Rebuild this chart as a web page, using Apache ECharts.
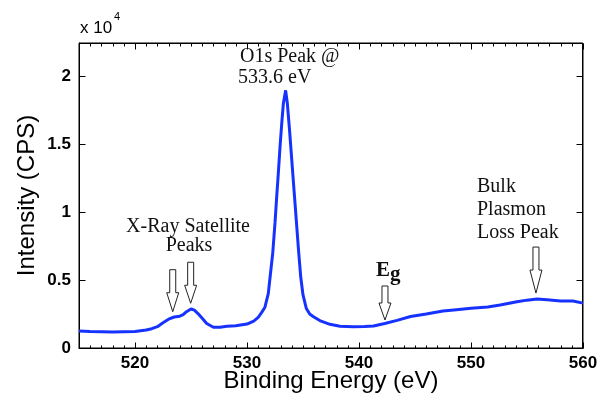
<!DOCTYPE html>
<html><head><meta charset="utf-8">
<script src="https://cdn.jsdelivr.net/npm/echarts@6/dist/echarts.min.js"></script>
<style>html,body{margin:0;padding:0;background:#fff}#c{width:600px;height:397px}</style>
</head><body><div id="c"></div>
<script>
// Binding energy (eV)
const energy = [515, 516, 517, 518, 519, 520, 521, 521.5, 522, 522.5, 523, 523.5, 524, 524.3, 524.6, 525, 525.3, 525.6, 526, 526.4, 527, 527.6, 528.2, 529, 530, 530.6, 531, 531.3, 531.6, 531.9, 532.1, 532.3, 532.5, 532.65, 532.8, 532.95, 533.1, 533.25, 533.45, 533.6, 533.8, 534.0, 534.2, 534.4, 534.6, 534.8, 535.0, 535.3, 535.6, 535.9, 536.5, 537.4, 538.3, 539.5, 540.5, 541.3, 542.3, 543.4, 544.6, 546, 547.5, 548.7, 550, 551.5, 552.6, 554.1, 555, 555.9, 556.8, 558, 559.1, 560];
// Intensity (x 10^4 CPS)
const intensity = [0.125, 0.122, 0.12, 0.117, 0.12, 0.122, 0.132, 0.142, 0.157, 0.186, 0.212, 0.228, 0.234, 0.245, 0.267, 0.287, 0.278, 0.255, 0.218, 0.18, 0.153, 0.152, 0.16, 0.164, 0.176, 0.198, 0.225, 0.26, 0.30, 0.40, 0.55, 0.70, 0.92, 1.11, 1.29, 1.48, 1.65, 1.80, 1.895, 1.80, 1.60, 1.38, 1.16, 0.94, 0.72, 0.52, 0.39, 0.29, 0.25, 0.232, 0.202, 0.174, 0.16, 0.157, 0.158, 0.162, 0.18, 0.203, 0.232, 0.25, 0.272, 0.282, 0.292, 0.302, 0.316, 0.34, 0.352, 0.36, 0.354, 0.345, 0.345, 0.33];
const xTicks = [520, 530, 540, 550, 560];
const yTicks = [0, 0.5, 1, 1.5, 2];
const xRange = [515, 560];
const yRange = [0, 2.243];
// arrow tips (eV, intensity)
const arrowTips = [[523.37, 0.267], [524.97, 0.329], [542.32, 0.206], [555.8, 0.404]];
// arrow styling: total length, head length (px)
const arrowSize = [[42, 19], [41, 18], [34, 17], [46, 23]];

const minorTicks = [];
for (let v = xRange[0]; v <= xRange[1]; v++) if (xTicks.indexOf(v) < 0) minorTicks.push(v);

const chart = echarts.init(document.getElementById('c'));
const sans = 'Liberation Sans, Arial, Helvetica, sans-serif';
const serif = 'Liberation Serif, Times New Roman, serif';
const option = {
  animation: false,
  grid: {left: 79, right: 17, top: 43, bottom: 49, outerBoundsMode: 'none', show: true, borderColor: '#000', borderWidth: 1},
  xAxis: [{
    type: 'value', min: xRange[0], max: xRange[1],
    axisLine: {show: true, onZero: false, lineStyle: {color: '#000', width: 1}},
    splitLine: {show: false}, axisTick: {show: false},
    axisLabel: {show: true, customValues: xTicks, color: '#000', fontFamily: sans, fontSize: 17, fontWeight: 'bold', margin: 7},
    name: 'Binding Energy (eV)', nameLocation: 'middle', nameGap: 21, nameMoveOverlap: false,
    nameTextStyle: {color: '#000', fontFamily: sans, fontSize: 24}
  }],
  yAxis: [{
    type: 'value', min: yRange[0], max: yRange[1],
    axisLine: {show: true, onZero: false, lineStyle: {color: '#000', width: 1}},
    splitLine: {show: false}, axisTick: {show: false},
    axisLabel: {show: true, customValues: yTicks, color: '#000', fontFamily: sans, fontSize: 17, fontWeight: 'bold', margin: 8},
    name: 'Intensity (CPS)', nameLocation: 'middle', nameGap: 40, nameRotate: 90, nameMoveOverlap: false,
    nameTextStyle: {color: '#000', fontFamily: sans, fontSize: 24}
  }],
  series: [{
    type: 'line', showSymbol: false, symbol: 'none', smooth: false,
    lineStyle: {color: '#1632ff', width: 3},
    data: energy.map((e, i) => [e, intensity[i]])
  }]
};
chart.setOption(option);

const conv = d => chart.convertToPixel({xAxisIndex: 0, yAxisIndex: 0}, d);
const pBL = conv([xRange[0], yRange[0]]), pTR = conv([xRange[1], yRange[1]]);
const X0 = Math.round(pBL[0]) + 0.5, Y0 = Math.round(pBL[1]) + 0.5;
const X1 = Math.round(pTR[0]) - 0.5, Y1 = Math.round(pTR[1]) + 0.5;

const graphics = [];
function seg(a, b, c, d) {
  graphics.push({type: 'line', shape: {x1: a, y1: b, x2: c, y2: d}, style: {stroke: '#000', lineWidth: 1}});
}
// frame
seg(X0, Y1, X1, Y1); seg(X1, Y1, X1, Y0); seg(X0, Y0, X1, Y0); seg(X0, Y0, X0, Y1);
// inside ticks, mirrored top/right
xTicks.forEach(v => { const x = Math.round(conv([v, 0])[0]) + 0.5; seg(x, Y0, x, Y0 - 6); seg(x, Y1, x, Y1 + 6); });
minorTicks.forEach(v => { const x = Math.round(conv([v, 0])[0]) + 0.5; seg(x, Y0, x, Y0 - 3); seg(x, Y1, x, Y1 + 3); });
yTicks.forEach(v => { const y = Math.round(conv([xRange[0], v])[1]) + 0.5; seg(X0, y, X0 + 6, y); seg(X1, y, X1 - 6, y); });

graphics.push(
  {type: 'text', left: 80, top: 20, style: {text: 'x 10', font: '17px ' + sans, fill: '#000'}},
  {type: 'text', left: 114, top: 11, style: {text: '4', font: '11px ' + sans, fill: '#000'}},
  {type: 'text', left: 240, top: 47, style: {text: 'O1s Peak @', font: '20px ' + serif, fill: '#111'}},
  {type: 'text', left: 238, top: 68, style: {text: '533.6 eV', font: '20px ' + serif, fill: '#111'}},
  {type: 'text', x: 188, y: 217, style: {text: 'X-Ray Satellite', font: '20px ' + serif, fill: '#111', align: 'center'}},
  {type: 'text', x: 189, y: 236, style: {text: 'Peaks', font: '20px ' + serif, fill: '#111', align: 'center'}},
  {type: 'text', left: 376, top: 260, style: {text: 'E', font: 'bold 21px ' + serif, fill: '#111'}},
  {type: 'text', left: 390, top: 264, style: {text: 'g', font: 'bold 21px ' + serif, fill: '#111'}},
  {type: 'text', left: 477, top: 177, style: {text: 'Bulk', font: '20px ' + serif, fill: '#111'}},
  {type: 'text', left: 477, top: 200, style: {text: 'Plasmon', font: '20px ' + serif, fill: '#111'}},
  {type: 'text', left: 477, top: 223, style: {text: 'Loss Peak', font: '20px ' + serif, fill: '#111'}}
);
arrowTips.forEach((t, i) => {
  const p = conv(t);
  const L = arrowSize[i][0], H = arrowSize[i][1];
  const sw = 3, hw = 6;
  const x = p[0], y = p[1];
  graphics.push({type: 'polygon', shape: {points: [
    [x - sw, y - L], [x + sw, y - L], [x + sw, y - H], [x + hw, y - H], [x, y], [x - hw, y - H], [x - sw, y - H]
  ]}, style: {fill: '#fff', stroke: '#222', lineWidth: 1}});
});
chart.setOption({graphic: graphics});
</script></body></html>
